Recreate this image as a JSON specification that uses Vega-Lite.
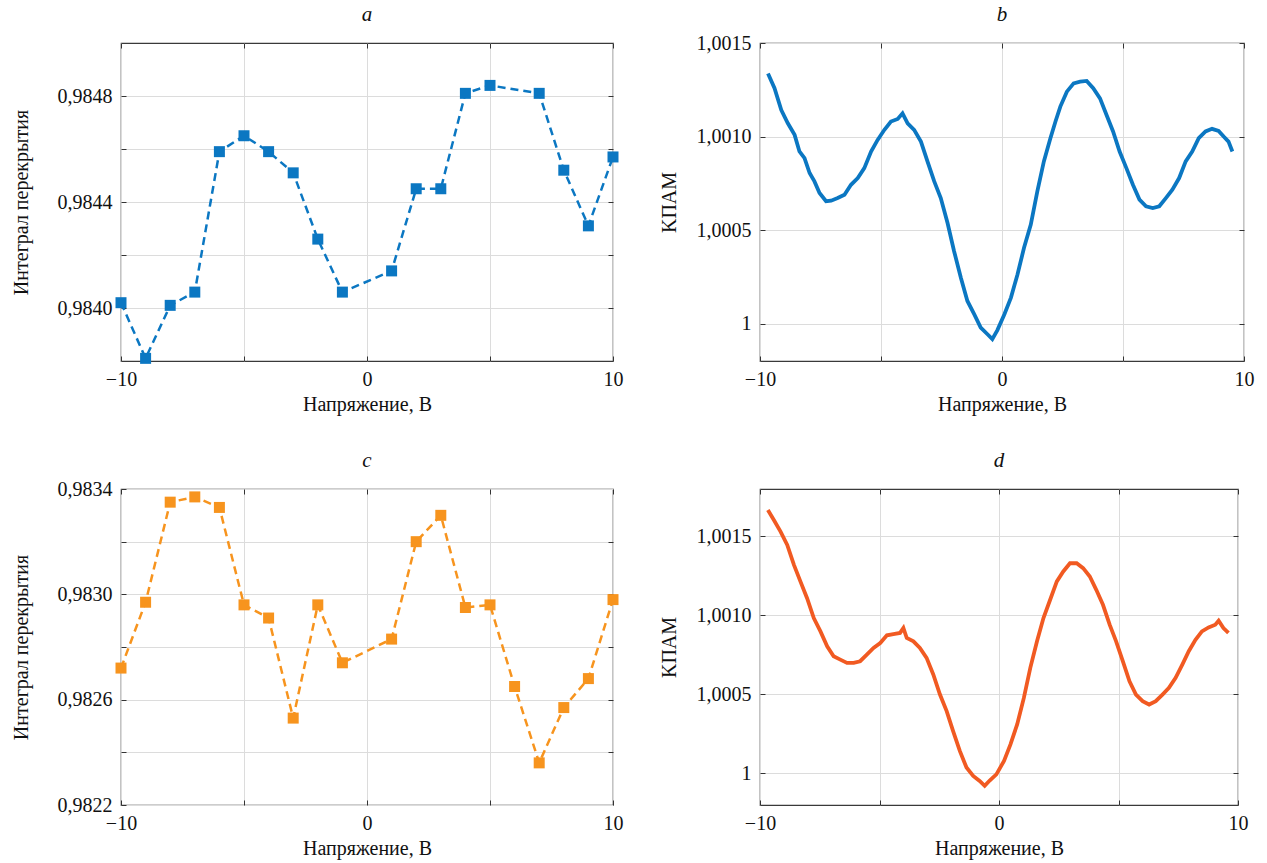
{
  "$schema": "https://vega.github.io/schema/vega-lite/v6.json",
  "background": "white",
  "padding": {"left": 10, "top": 2, "right": 5, "bottom": 5},
  "datasets": {
    "pa": [
      {"u": -10, "v": 0.98402}, {"u": -9, "v": 0.98381}, {"u": -8, "v": 0.98401}, {"u": -7, "v": 0.98406},
      {"u": -6, "v": 0.98459}, {"u": -5, "v": 0.98465}, {"u": -4, "v": 0.98459}, {"u": -3, "v": 0.98451},
      {"u": -2, "v": 0.98426}, {"u": -1, "v": 0.98406}, {"u": 1, "v": 0.98414}, {"u": 2, "v": 0.98445},
      {"u": 3, "v": 0.98445}, {"u": 4, "v": 0.98481}, {"u": 5, "v": 0.98484}, {"u": 7, "v": 0.98481},
      {"u": 8, "v": 0.98452}, {"u": 9, "v": 0.98431}, {"u": 10, "v": 0.98457}
    ],
    "pc": [
      {"u": -10, "v": 0.98272}, {"u": -9, "v": 0.98297}, {"u": -8, "v": 0.98335}, {"u": -7, "v": 0.98337},
      {"u": -6, "v": 0.98333}, {"u": -5, "v": 0.98296}, {"u": -4, "v": 0.98291}, {"u": -3, "v": 0.98253},
      {"u": -2, "v": 0.98296}, {"u": -1, "v": 0.98274}, {"u": 1, "v": 0.98283}, {"u": 2, "v": 0.9832},
      {"u": 3, "v": 0.9833}, {"u": 4, "v": 0.98295}, {"u": 5, "v": 0.98296}, {"u": 6, "v": 0.98265},
      {"u": 7, "v": 0.98236}, {"u": 8, "v": 0.98257}, {"u": 9, "v": 0.98268}, {"u": 10, "v": 0.98298}
    ],
    "pb": [
      {"u": -9.67, "v": 1.001337}, {"u": -9.4, "v": 1.001258}, {"u": -9.12, "v": 1.001142}, {"u": -8.85, "v": 1.001071},
      {"u": -8.57, "v": 1.001009}, {"u": -8.37, "v": 1.00092}, {"u": -8.16, "v": 1.000885}, {"u": -7.95, "v": 1.000805},
      {"u": -7.75, "v": 1.00076}, {"u": -7.54, "v": 1.000698}, {"u": -7.27, "v": 1.000654}, {"u": -7.06, "v": 1.000657},
      {"u": -6.79, "v": 1.000671}, {"u": -6.51, "v": 1.000689}, {"u": -6.24, "v": 1.000742}, {"u": -5.96, "v": 1.000778},
      {"u": -5.69, "v": 1.000831}, {"u": -5.41, "v": 1.00092}, {"u": -5.14, "v": 1.000982}, {"u": -4.86, "v": 1.001036},
      {"u": -4.59, "v": 1.00108}, {"u": -4.31, "v": 1.001094}, {"u": -4.11, "v": 1.001124}, {"u": -3.9, "v": 1.001071},
      {"u": -3.63, "v": 1.001036}, {"u": -3.35, "v": 1.000973}, {"u": -3.08, "v": 1.000867}, {"u": -2.8, "v": 1.00076},
      {"u": -2.53, "v": 1.000671}, {"u": -2.25, "v": 1.000538}, {"u": -1.98, "v": 1.000387}, {"u": -1.7, "v": 1.000245},
      {"u": -1.43, "v": 1.000121}, {"u": -1.15, "v": 1.00005}, {"u": -0.88, "v": 0.999979}, {"u": -0.6, "v": 0.999943},
      {"u": -0.4, "v": 0.999917}, {"u": -0.19, "v": 0.999965}, {"u": 0.1, "v": 1.00005}, {"u": 0.37, "v": 1.000139},
      {"u": 0.64, "v": 1.000263}, {"u": 0.91, "v": 1.000405}, {"u": 1.19, "v": 1.000529}, {"u": 1.46, "v": 1.000707},
      {"u": 1.73, "v": 1.000867}, {"u": 2.0, "v": 1.000991}, {"u": 2.21, "v": 1.00108}, {"u": 2.41, "v": 1.00116},
      {"u": 2.68, "v": 1.00124}, {"u": 2.96, "v": 1.001284}, {"u": 3.23, "v": 1.001293}, {"u": 3.5, "v": 1.001297},
      {"u": 3.77, "v": 1.001258}, {"u": 4.05, "v": 1.001204}, {"u": 4.32, "v": 1.001115}, {"u": 4.59, "v": 1.001027},
      {"u": 4.86, "v": 1.00092}, {"u": 5.14, "v": 1.000831}, {"u": 5.41, "v": 1.000742}, {"u": 5.68, "v": 1.000663},
      {"u": 5.95, "v": 1.000627}, {"u": 6.23, "v": 1.000618}, {"u": 6.5, "v": 1.000627}, {"u": 6.77, "v": 1.000671},
      {"u": 7.04, "v": 1.000716}, {"u": 7.32, "v": 1.000778}, {"u": 7.59, "v": 1.000867}, {"u": 7.86, "v": 1.00092},
      {"u": 8.13, "v": 1.000991}, {"u": 8.41, "v": 1.001027}, {"u": 8.68, "v": 1.001041}, {"u": 8.95, "v": 1.00103},
      {"u": 9.16, "v": 1.001}, {"u": 9.36, "v": 1.000973}, {"u": 9.52, "v": 1.00092}
    ],
    "pd": [
      {"u": -9.67, "v": 1.001667}, {"u": -9.42, "v": 1.001604}, {"u": -9.14, "v": 1.00153}, {"u": -8.86, "v": 1.001446},
      {"u": -8.58, "v": 1.00132}, {"u": -8.31, "v": 1.001215}, {"u": -8.03, "v": 1.001109}, {"u": -7.75, "v": 1.000983},
      {"u": -7.47, "v": 1.000899}, {"u": -7.19, "v": 1.000804}, {"u": -6.92, "v": 1.000741}, {"u": -6.64, "v": 1.00072},
      {"u": -6.36, "v": 1.000699}, {"u": -6.08, "v": 1.000699}, {"u": -5.81, "v": 1.00071}, {"u": -5.53, "v": 1.000752},
      {"u": -5.25, "v": 1.000794}, {"u": -4.97, "v": 1.000825}, {"u": -4.69, "v": 1.000874}, {"u": -4.42, "v": 1.000882},
      {"u": -4.14, "v": 1.000889}, {"u": -4.0, "v": 1.00092}, {"u": -3.86, "v": 1.000857}, {"u": -3.58, "v": 1.000836},
      {"u": -3.31, "v": 1.000794}, {"u": -3.03, "v": 1.000731}, {"u": -2.75, "v": 1.000626}, {"u": -2.47, "v": 1.000499},
      {"u": -2.19, "v": 1.000394}, {"u": -1.92, "v": 1.000268}, {"u": -1.64, "v": 1.000142}, {"u": -1.36, "v": 1.000037},
      {"u": -1.08, "v": 0.999984}, {"u": -0.81, "v": 0.999952}, {"u": -0.6, "v": 0.999921}, {"u": -0.39, "v": 0.999955},
      {"u": -0.11, "v": 0.999994}, {"u": 0.21, "v": 1.000079}, {"u": 0.48, "v": 1.000184}, {"u": 0.76, "v": 1.00031},
      {"u": 1.04, "v": 1.000478}, {"u": 1.31, "v": 1.000668}, {"u": 1.59, "v": 1.000836}, {"u": 1.86, "v": 1.000983},
      {"u": 2.14, "v": 1.001099}, {"u": 2.42, "v": 1.001215}, {"u": 2.69, "v": 1.001278}, {"u": 2.97, "v": 1.00133},
      {"u": 3.25, "v": 1.00133}, {"u": 3.52, "v": 1.001299}, {"u": 3.8, "v": 1.001246}, {"u": 4.07, "v": 1.001162},
      {"u": 4.35, "v": 1.001067}, {"u": 4.63, "v": 1.000941}, {"u": 4.9, "v": 1.000836}, {"u": 5.18, "v": 1.00071},
      {"u": 5.46, "v": 1.000583}, {"u": 5.73, "v": 1.000499}, {"u": 6.01, "v": 1.000457}, {"u": 6.28, "v": 1.000436},
      {"u": 6.56, "v": 1.000457}, {"u": 6.84, "v": 1.000499}, {"u": 7.11, "v": 1.000541}, {"u": 7.39, "v": 1.000605},
      {"u": 7.67, "v": 1.000689}, {"u": 7.94, "v": 1.000773}, {"u": 8.22, "v": 1.000846}, {"u": 8.49, "v": 1.000899},
      {"u": 8.77, "v": 1.000924}, {"u": 9.05, "v": 1.000941}, {"u": 9.19, "v": 1.000966}, {"u": 9.39, "v": 1.00092},
      {"u": 9.6, "v": 1.000889}
    ]
  },
  "bounds": "flush",
  "columns": 2,
  "spacing": {"row": 128, "column": 147},
  "concat": [
    {
      "width": 492, "height": 318,
      "title": {"text": "a"},
      "data": {"name": "pa"},
      "layer": [
        {
          "mark": {"type": "line", "color": "#0b77c2", "strokeDash": [8, 5], "strokeWidth": 2.5},
          "encoding": {
            "x": {"field": "u", "type": "quantitative", "scale": {"domain": [-10, 10], "nice": false, "zero": false},
                  "axis": {"title": "Напряжение, В", "values": [-10, -5, 0, 5, 10], "labelExpr": "datum.value % 10 == 0 ? datum.label : ''"}},
            "y": {"field": "v", "type": "quantitative", "scale": {"domain": [0.9838, 0.985], "nice": false, "zero": false},
                  "axis": {"title": "Интеграл перекрытия", "titlePadding": 18, "values": [0.984, 0.9842, 0.9844, 0.9846, 0.9848],
                           "labelExpr": "indexof([0.984, 0.9844, 0.9848], datum.value) >= 0 ? replace(format(datum.value, '.4f'), '.', ',') : ''"}}
          }
        },
        {
          "mark": {"type": "point", "shape": "square", "filled": true, "size": 121, "color": "#0b77c2", "opacity": 1},
          "encoding": {
            "x": {"field": "u", "type": "quantitative", "axis": {"orient": "top", "labels": false, "grid": false, "title": null, "minExtent": 0, "maxExtent": 0, "values": [-10, -5, 0, 5, 10]}},
            "y": {"field": "v", "type": "quantitative", "axis": {"orient": "right", "labels": false, "grid": false, "title": null, "minExtent": 0, "maxExtent": 0, "values": [0.984, 0.9842, 0.9844, 0.9846, 0.9848]}}
          }
        }
      ],
      "resolve": {"axis": {"x": "independent", "y": "independent"}}
    },
    {
      "width": 484, "height": 318,
      "title": {"text": "b", "dy": 10},
      "data": {"name": "pb"},
      "layer": [
        {
          "mark": {"type": "line", "color": "#0b77c2", "strokeWidth": 3.8},
          "encoding": {
            "x": {"field": "u", "type": "quantitative", "scale": {"domain": [-10, 10], "nice": false, "zero": false},
                  "axis": {"title": "Напряжение, В", "values": [-10, -5, 0, 5, 10], "labelExpr": "datum.value % 10 == 0 ? datum.label : ''"}},
            "y": {"field": "v", "type": "quantitative", "scale": {"domain": [0.9998, 1.0015], "nice": false, "zero": false},
                  "axis": {"title": "KПАМ", "titlePadding": 9, "values": [1, 1.0005, 1.001, 1.0015],
                           "labelExpr": "datum.value == 1 ? '1' : replace(format(datum.value, '.4f'), '.', ',')"}}
          }
        },
        {
          "mark": {"type": "line", "strokeOpacity": 0},
          "encoding": {
            "x": {"field": "u", "type": "quantitative", "axis": {"orient": "top", "labels": false, "grid": false, "title": null, "minExtent": 0, "maxExtent": 0, "values": [-10, -5, 0, 5, 10]}},
            "y": {"field": "v", "type": "quantitative", "axis": {"orient": "right", "labels": false, "grid": false, "title": null, "minExtent": 0, "maxExtent": 0, "values": [1, 1.0005, 1.001, 1.0015]}}
          }
        }
      ],
      "resolve": {"axis": {"x": "independent", "y": "independent"}}
    },
    {
      "width": 492, "height": 316,
      "title": {"text": "c", "dy": 10},
      "data": {"name": "pc"},
      "layer": [
        {
          "mark": {"type": "line", "color": "#f7941e", "strokeDash": [8, 5], "strokeWidth": 2.5},
          "encoding": {
            "x": {"field": "u", "type": "quantitative", "scale": {"domain": [-10, 10], "nice": false, "zero": false},
                  "axis": {"title": "Напряжение, В", "values": [-10, -5, 0, 5, 10], "labelExpr": "datum.value % 10 == 0 ? datum.label : ''"}},
            "y": {"field": "v", "type": "quantitative", "scale": {"domain": [0.9822, 0.9834], "nice": false, "zero": false},
                  "axis": {"title": "Интеграл перекрытия", "titlePadding": 18, "values": [0.9822, 0.9824, 0.9826, 0.9828, 0.983, 0.9832, 0.9834],
                           "labelExpr": "indexof([0.9822, 0.9826, 0.983, 0.9834], datum.value) >= 0 ? replace(format(datum.value, '.4f'), '.', ',') : ''"}}
          }
        },
        {
          "mark": {"type": "point", "shape": "square", "filled": true, "size": 121, "color": "#f7941e", "opacity": 1},
          "encoding": {
            "x": {"field": "u", "type": "quantitative", "axis": {"orient": "top", "labels": false, "grid": false, "title": null, "minExtent": 0, "maxExtent": 0, "values": [-10, -5, 0, 5, 10]}},
            "y": {"field": "v", "type": "quantitative", "axis": {"orient": "right", "labels": false, "grid": false, "title": null, "minExtent": 0, "maxExtent": 0, "values": [0.9824, 0.9826, 0.9828, 0.983, 0.9832]}}
          }
        }
      ],
      "resolve": {"axis": {"x": "independent", "y": "independent"}}
    },
    {
      "width": 478, "height": 316,
      "title": {"text": "d"},
      "data": {"name": "pd"},
      "layer": [
        {
          "mark": {"type": "line", "color": "#f15a22", "strokeWidth": 3.8},
          "encoding": {
            "x": {"field": "u", "type": "quantitative", "scale": {"domain": [-10, 10], "nice": false, "zero": false},
                  "axis": {"title": "Напряжение, В", "values": [-10, -5, 0, 5, 10], "labelExpr": "datum.value % 10 == 0 ? datum.label : ''"}},
            "y": {"field": "v", "type": "quantitative", "scale": {"domain": [0.9998, 1.0018], "nice": false, "zero": false},
                  "axis": {"title": "KПАМ", "titlePadding": 9, "values": [1, 1.0005, 1.001, 1.0015],
                           "labelExpr": "datum.value == 1 ? '1' : replace(format(datum.value, '.4f'), '.', ',')"}}
          }
        },
        {
          "mark": {"type": "line", "strokeOpacity": 0},
          "encoding": {
            "x": {"field": "u", "type": "quantitative", "axis": {"orient": "top", "labels": false, "grid": false, "title": null, "minExtent": 0, "maxExtent": 0, "values": [-10, -5, 0, 5, 10]}},
            "y": {"field": "v", "type": "quantitative", "axis": {"orient": "right", "labels": false, "grid": false, "title": null, "minExtent": 0, "maxExtent": 0, "values": [1, 1.0005, 1.001, 1.0015]}}
          }
        }
      ],
      "resolve": {"axis": {"x": "independent", "y": "independent"}}
    }
  ],
  "config": {
    "view": {"stroke": "#3a3a3a", "strokeWidth": 1.2},
    "axis": {
      "labelFont": "Liberation Serif", "labelFontSize": 20, "labelColor": "#111",
      "titleFont": "Liberation Serif", "titleFontSize": 20, "titleFontWeight": "normal", "titleColor": "#111",
      "domain": false, "tickColor": "#333", "tickSize": -5, "tickWidth": 1,
      "gridColor": "#dcdcdc", "gridWidth": 1, "labelFlush": false, "labelOverlap": false
    },
    "axisX": {"labelPadding": 13, "minExtent": 28, "maxExtent": 28, "titlePadding": 5},
    "axisY": {"labelPadding": 14, "minExtent": 72, "maxExtent": 72},
    "title": {"font": "Liberation Serif", "fontStyle": "italic", "fontSize": 21, "fontWeight": "normal", "color": "#111", "offset": 18}
  }
}
